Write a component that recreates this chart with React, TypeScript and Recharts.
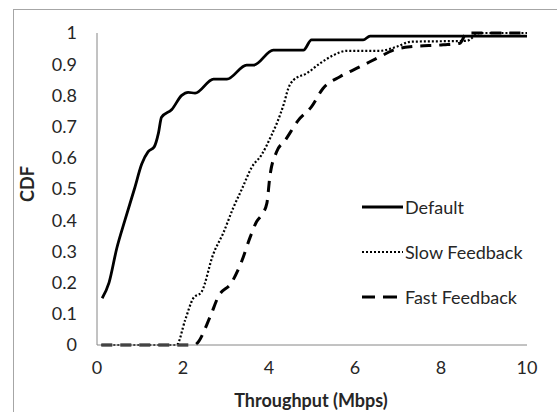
import React from 'react'
import { LineChart, Line, XAxis, YAxis } from 'recharts'

// throughput (Mbps) / CDF pairs
const defaultThroughput = [0.12, 0.28, 0.46, 0.65, 0.87, 1.04, 1.19, 1.33, 1.43, 1.5, 1.74, 1.97, 2.12, 2.28, 2.71, 3.02, 3.48, 3.64, 4.1, 4.8, 4.99, 6.19, 6.35, 10]
const defaultCdf = [0.15, 0.2, 0.31, 0.4, 0.5, 0.58, 0.62, 0.635, 0.68, 0.73, 0.755, 0.8, 0.81, 0.807, 0.852, 0.852, 0.897, 0.897, 0.945, 0.945, 0.978, 0.978, 0.99, 0.99]

const slowThroughput = [0.1, 1.85, 2.05, 2.24, 2.43, 2.7, 2.94, 3.17, 3.37, 3.6, 3.83, 4.05, 4.18, 4.35, 4.45, 4.57, 4.88, 5.19, 5.5, 5.81, 6.58, 6.97, 7.3, 8.6, 8.9, 10]
const slowCdf = [0, 0, 0.08, 0.15, 0.17, 0.29, 0.36, 0.44, 0.5, 0.57, 0.61, 0.67, 0.71, 0.775, 0.823, 0.849, 0.871, 0.903, 0.929, 0.943, 0.943, 0.956, 0.972, 0.975, 1.0, 1.0]

const fastThroughput = [0.1, 2.26, 2.63, 2.82, 3.13, 3.37, 3.56, 3.71, 3.83, 3.95, 4.02, 4.18, 4.37, 4.68, 4.99, 5.26, 5.65, 6.12, 6.58, 6.89, 7.28, 8.05, 8.44, 8.6, 10]
const fastCdf = [0, 0, 0.09, 0.155, 0.2, 0.27, 0.345, 0.395, 0.417, 0.454, 0.54, 0.62, 0.655, 0.72, 0.764, 0.823, 0.86, 0.892, 0.924, 0.945, 0.956, 0.962, 0.967, 1.0, 1.0]

const xTicks = [0, 2, 4, 6, 8, 10]
const yTicks = [0, 0.1, 0.2, 0.3, 0.4, 0.5, 0.6, 0.7, 0.8, 0.9, 1]

const toPoints = (xs: number[], ys: number[]) => xs.map((x, i) => ({ x, y: ys[i] }))

const series = [
  { name: 'Default', data: toPoints(defaultThroughput, defaultCdf), dash: undefined, legendDash: undefined, width: 2.8 },
  { name: 'Slow Feedback', data: toPoints(slowThroughput, slowCdf), dash: '2 2', legendDash: '2 2', width: 2.2 },
  { name: 'Fast Feedback', data: toPoints(fastThroughput, fastCdf), dash: '11 8', legendDash: '13 8 14', width: 3 },
]

const font = 'Lato, "Open Sans", sans-serif'
const fontSize = 18
const axisColor = '#868686'
const textColor = '#262626'

const LegendBox = () => (
  <div style={{ position: 'absolute', left: 362, top: 184, fontFamily: font, fontSize, color: textColor }}>
    {series.map((s) => (
      <div key={s.name} style={{ height: 45, display: 'flex', alignItems: 'center' }}>
        <svg width={42} height={10}>
          <line x1={0} y1={5} x2={41} y2={5} stroke="#000" strokeWidth={s.width} strokeDasharray={s.legendDash} />
        </svg>
        <span style={{ marginLeft: 1 }}>{s.name}</span>
      </div>
    ))}
  </div>
)

const App = () => {
  return (
    <div style={{ position: 'absolute', left: 0, top: 0, width: 557, height: 412, overflow: 'hidden', background: '#fff' }}>
      <div style={{ position: 'absolute', left: 13, top: 9, width: 600, height: 500, border: '1px solid #a6a6a6' }} />
      <div style={{ position: 'absolute', left: 0, top: 0 }}>
        <LineChart width={557} height={412} margin={{ top: 33, right: 30, bottom: 5, left: 0 }}>
          <XAxis
            dataKey="x"
            type="number"
            domain={[0, 10]}
            ticks={xTicks}
            interval={0}
            height={62}
            tickLine={false}
            tickMargin={10}
            axisLine={{ stroke: axisColor }}
            tick={{ fontSize, fill: textColor, fontFamily: font }}
            label={{
              content: () => (
                <text x={311} y={400} textAnchor="middle" dominantBaseline="central" fontFamily={font} fontSize={fontSize} fontWeight="bold" fill={textColor}>
                  Throughput (Mbps)
                </text>
              ),
            }}
          />
          <YAxis
            dataKey="y"
            type="number"
            domain={[0, 1]}
            ticks={yTicks}
            interval={0}
            width={97}
            tickLine={false}
            tickMargin={14}
            axisLine={{ stroke: axisColor }}
            tick={{ fontSize, fill: textColor, fontFamily: font }}
            label={{
              content: () => (
                <text x={27} y={184} transform="rotate(-90 27 184)" textAnchor="middle" dominantBaseline="central" fontFamily={font} fontSize={fontSize} fontWeight="bold" fill={textColor}>
                  CDF
                </text>
              ),
            }}
          />
          {series.map((s) => (
            <Line
              key={s.name}
              name={s.name}
              data={s.data}
              dataKey="y"
              type="monotone"
              stroke="#000"
              strokeWidth={s.width}
              strokeDasharray={s.dash}
              dot={false}
              activeDot={false}
              isAnimationActive={false}
            />
          ))}
        </LineChart>
      </div>
      <LegendBox />
    </div>
  )
}

export default App
